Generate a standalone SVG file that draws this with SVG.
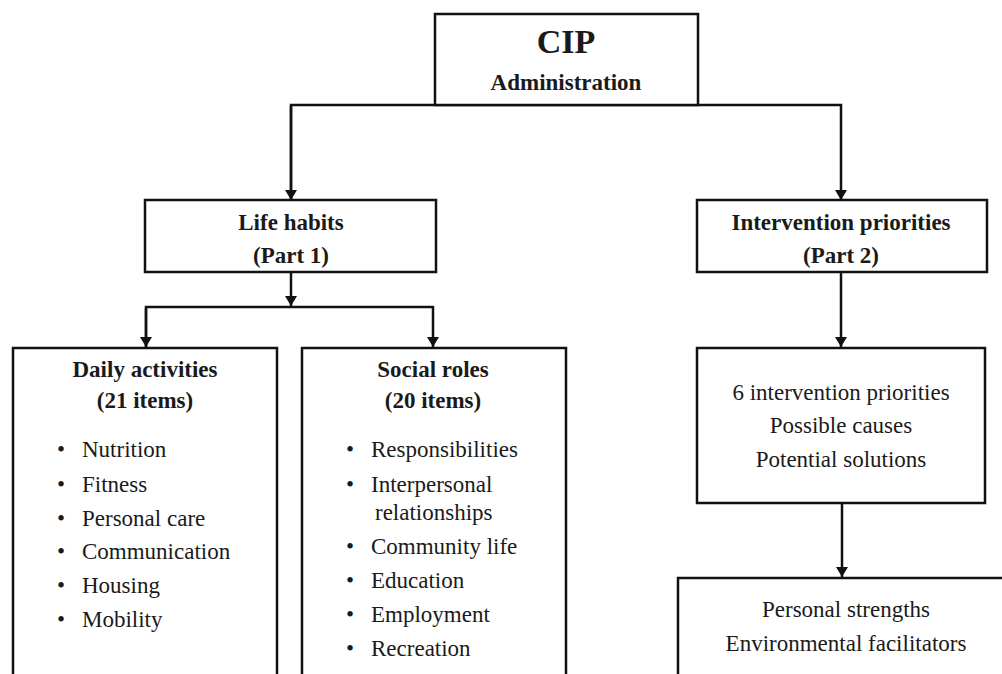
<svg xmlns="http://www.w3.org/2000/svg" width="1002" height="674" viewBox="0 0 1002 674">
<defs>
<style>
.box{fill:#fff;stroke:#111;stroke-width:2.5}
.ln{fill:none;stroke:#111;stroke-width:2.5}
text{font-family:"Liberation Serif","Times New Roman",serif;font-size:23px;fill:#1a1a1a}
.b{font-weight:bold}
.c{text-anchor:middle}
</style>
<marker id="ah" viewBox="0 0 10 12" refX="10" refY="6" markerWidth="10" markerHeight="12" markerUnits="userSpaceOnUse" orient="auto">
<path d="M0,0 L10,6 L0,12 Z" fill="#111"/>
</marker>
</defs>
<rect width="1002" height="674" fill="#fff"/>
<g id="connectors">
<polyline class="ln" points="291,200 291,105 841,105 841,200" marker-end="url(#ah)"/>
<line class="ln" x1="291" y1="106" x2="291" y2="200" marker-end="url(#ah)"/>
<line class="ln" x1="291" y1="272" x2="291" y2="306" marker-end="url(#ah)"/>
<polyline class="ln" points="146,347 146,307 433,307 433,347" marker-end="url(#ah)"/>
<line class="ln" x1="146" y1="308" x2="146" y2="347" marker-end="url(#ah)"/>
<line class="ln" x1="841" y1="272" x2="841" y2="347" marker-end="url(#ah)"/>
<line class="ln" x1="842" y1="503" x2="842" y2="577" marker-end="url(#ah)"/>
</g>
<g id="cip">
<rect class="box" x="435" y="14" width="263" height="91"/>
<text class="b c" x="566" y="53" style="font-size:34px">CIP</text>
<text class="b c" x="566" y="90">Administration</text>
</g>
<g id="life-habits">
<rect class="box" x="145" y="200" width="291" height="72"/>
<text class="b c" x="291" y="230">Life habits</text>
<text class="b c" x="291" y="263">(Part 1)</text>
</g>
<g id="intervention">
<rect class="box" x="697" y="200" width="290" height="72"/>
<text class="b c" x="841" y="230">Intervention priorities</text>
<text class="b c" x="841" y="263">(Part 2)</text>
</g>
<g id="daily">
<rect class="box" x="13" y="348" width="264" height="360"/>
<text class="b c" x="145" y="377">Daily activities</text>
<text class="b c" x="145" y="408">(21 items)</text>
<text x="57" y="457">•</text><text x="82" y="457">Nutrition</text>
<text x="57" y="492">•</text><text x="82" y="492">Fitness</text>
<text x="57" y="526">•</text><text x="82" y="526">Personal care</text>
<text x="57" y="559">•</text><text x="82" y="559">Communication</text>
<text x="57" y="593">•</text><text x="82" y="593">Housing</text>
<text x="57" y="627">•</text><text x="82" y="627">Mobility</text>
</g>
<g id="social">
<rect class="box" x="302" y="348" width="264" height="360"/>
<text class="b c" x="433" y="377">Social roles</text>
<text class="b c" x="433" y="408">(20 items)</text>
<text x="346" y="457">•</text><text x="371" y="457">Responsibilities</text>
<text x="346" y="492">•</text><text x="371" y="492">Interpersonal</text>
<text x="375" y="520">relationships</text>
<text x="346" y="554">•</text><text x="371" y="554">Community life</text>
<text x="346" y="588">•</text><text x="371" y="588">Education</text>
<text x="346" y="622">•</text><text x="371" y="622">Employment</text>
<text x="346" y="656">•</text><text x="371" y="656">Recreation</text>
</g>
<g id="priorities">
<rect class="box" x="697" y="348" width="288" height="155"/>
<text class="c" x="841" y="400">6 intervention priorities</text>
<text class="c" x="841" y="433">Possible causes</text>
<text class="c" x="841" y="467">Potential solutions</text>
</g>
<g id="strengths">
<rect class="box" x="678" y="578" width="340" height="130"/>
<text class="c" x="846" y="617">Personal strengths</text>
<text class="c" x="846" y="651">Environmental facilitators</text>
</g>
</svg>
